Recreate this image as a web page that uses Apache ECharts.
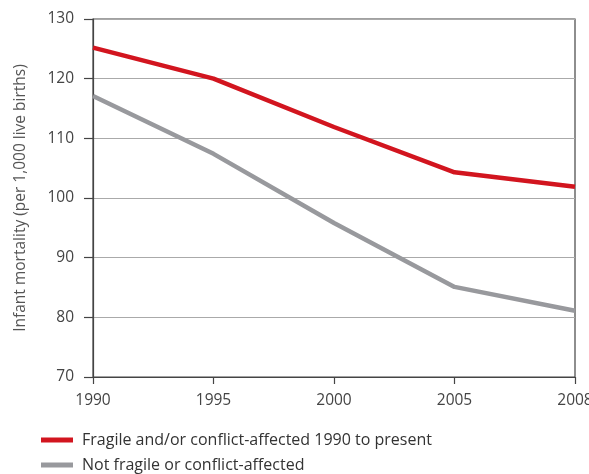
<!DOCTYPE html>
<html>
<head>
<meta charset="utf-8">
<script src="https://cdn.jsdelivr.net/npm/echarts@6/dist/echarts.min.js"></script>
<style>
  html, body { margin: 0; padding: 0; background: #fff; }
  #chart { width: 589px; height: 474px; }
</style>
</head>
<body>
<div id="chart"></div>
<script>
// data
var years = ['1990', '1995', '2000', '2005', '2008'];
var fragile = [125.2, 120.0, 111.9, 104.3, 101.9];
var notFragile = [117.1, 107.4, 95.8, 85.1, 81.1];
var seriesNames = ['Fragile and/or conflict-affected 1990 to present', 'Not fragile or conflict-affected'];

var font = 'Open Sans';
var legendBase = {
  left: 41,
  itemWidth: 32, itemHeight: 5,
  icon: 'rect',
  padding: 0,
  textStyle: { fontFamily: font, fontSize: 16, color: '#333', padding: [0, 0, 0, 4] }
};

var myChart = echarts.init(document.getElementById('chart'));
var option = {
  animation: false,
  textStyle: { fontFamily: font },
  grid: {
    left: 93, right: 14, top: 19, bottom: 97,
    outerBoundsMode: 'none',
    show: true, borderColor: '#444', borderWidth: 1.2
  },
  // one legend per row so they stack like the original
  legend: [
    Object.assign({}, legendBase, { top: 432, data: [seriesNames[0]] }),
    Object.assign({}, legendBase, { top: 457, data: [seriesNames[1]] })
  ],
  xAxis: {
    type: 'category',
    boundaryGap: false,
    data: years,
    axisLine: { lineStyle: { color: '#444', width: 1.2 } },
    axisTick: { length: 7, lineStyle: { color: '#444', width: 1.2 } },
    axisLabel: { fontSize: 15.5, color: '#444', margin: 16 },
    splitLine: { show: false }
  },
  yAxis: {
    type: 'value',
    min: 70, max: 130, interval: 10,
    name: 'Infant mortality (per 1,000 live births)',
    nameLocation: 'middle',
    nameGap: 64,
    nameTextStyle: { fontSize: 15.5, color: '#555' },
    axisLine: { show: true, lineStyle: { color: '#444', width: 1.2 } },
    axisTick: { show: true, length: 9, lineStyle: { color: '#444', width: 1.2 } },
    axisLabel: { fontSize: 15.5, color: '#444', margin: 19 },
    splitLine: { lineStyle: { color: '#aaa', width: 1 } }
  },
  series: [
    {
      name: seriesNames[0],
      type: 'line',
      data: fragile,
      symbol: 'none',
      lineStyle: { color: '#d2151f', width: 4.5 },
      itemStyle: { color: '#d2151f' }
    },
    {
      name: seriesNames[1],
      type: 'line',
      data: notFragile,
      symbol: 'none',
      lineStyle: { color: '#98999d', width: 4.5 },
      itemStyle: { color: '#98999d' }
    }
  ]
};
myChart.setOption(option);
</script>
</body>
</html>
